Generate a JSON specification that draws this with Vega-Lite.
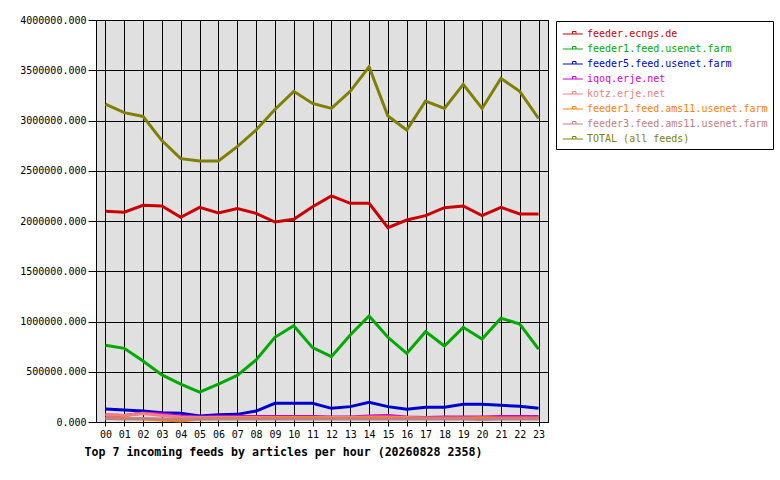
{
  "$schema": "https://vega.github.io/schema/vega-lite/v6.json",
  "width": 452,
  "height": 402,
  "autosize": "none",
  "padding": {"left": 96, "top": 20, "right": 232, "bottom": 58},
  "background": "white",
  "config": {
    "font": "DejaVu Sans Mono",
    "view": {"fill": "#e0e0e0", "stroke": "black", "strokeWidth": 1},
    "axis": {
      "labelFont": "DejaVu Sans Mono",
      "labelFontSize": 10,
      "labelColor": "black",
      "gridColor": "black",
      "gridOpacity": 1,
      "gridWidth": 1,
      "domainColor": "black",
      "tickColor": "black"
    }
  },
  "data": {
    "values": [
      {"h":"00","f":"feeder.ecngs.de","v":2097000},{"h":"01","f":"feeder.ecngs.de","v":2087000},{"h":"02","f":"feeder.ecngs.de","v":2156000},{"h":"03","f":"feeder.ecngs.de","v":2149000},{"h":"04","f":"feeder.ecngs.de","v":2037000},{"h":"05","f":"feeder.ecngs.de","v":2136000},{"h":"06","f":"feeder.ecngs.de","v":2080000},{"h":"07","f":"feeder.ecngs.de","v":2123000},{"h":"08","f":"feeder.ecngs.de","v":2076000},{"h":"09","f":"feeder.ecngs.de","v":1990000},{"h":"10","f":"feeder.ecngs.de","v":2017000},{"h":"11","f":"feeder.ecngs.de","v":2142000},{"h":"12","f":"feeder.ecngs.de","v":2249000},{"h":"13","f":"feeder.ecngs.de","v":2176000},{"h":"14","f":"feeder.ecngs.de","v":2176000},{"h":"15","f":"feeder.ecngs.de","v":1933000},{"h":"16","f":"feeder.ecngs.de","v":2010000},{"h":"17","f":"feeder.ecngs.de","v":2053000},{"h":"18","f":"feeder.ecngs.de","v":2133000},{"h":"19","f":"feeder.ecngs.de","v":2149000},{"h":"20","f":"feeder.ecngs.de","v":2053000},{"h":"21","f":"feeder.ecngs.de","v":2136000},{"h":"22","f":"feeder.ecngs.de","v":2070000},{"h":"23","f":"feeder.ecngs.de","v":2070000},
      {"h":"00","f":"feeder1.feed.usenet.farm","v":763000},{"h":"01","f":"feeder1.feed.usenet.farm","v":733000},{"h":"02","f":"feeder1.feed.usenet.farm","v":607000},{"h":"03","f":"feeder1.feed.usenet.farm","v":468000},{"h":"04","f":"feeder1.feed.usenet.farm","v":378000},{"h":"05","f":"feeder1.feed.usenet.farm","v":298000},{"h":"06","f":"feeder1.feed.usenet.farm","v":378000},{"h":"07","f":"feeder1.feed.usenet.farm","v":464000},{"h":"08","f":"feeder1.feed.usenet.farm","v":617000},{"h":"09","f":"feeder1.feed.usenet.farm","v":843000},{"h":"10","f":"feeder1.feed.usenet.farm","v":958000},{"h":"11","f":"feeder1.feed.usenet.farm","v":740000},{"h":"12","f":"feeder1.feed.usenet.farm","v":650000},{"h":"13","f":"feeder1.feed.usenet.farm","v":866000},{"h":"14","f":"feeder1.feed.usenet.farm","v":1055000},{"h":"15","f":"feeder1.feed.usenet.farm","v":843000},{"h":"16","f":"feeder1.feed.usenet.farm","v":683000},{"h":"17","f":"feeder1.feed.usenet.farm","v":899000},{"h":"18","f":"feeder1.feed.usenet.farm","v":756000},{"h":"19","f":"feeder1.feed.usenet.farm","v":942000},{"h":"20","f":"feeder1.feed.usenet.farm","v":826000},{"h":"21","f":"feeder1.feed.usenet.farm","v":1032000},{"h":"22","f":"feeder1.feed.usenet.farm","v":975000},{"h":"23","f":"feeder1.feed.usenet.farm","v":726000},
      {"h":"00","f":"feeder5.feed.usenet.farm","v":129000},{"h":"01","f":"feeder5.feed.usenet.farm","v":119000},{"h":"02","f":"feeder5.feed.usenet.farm","v":109000},{"h":"03","f":"feeder5.feed.usenet.farm","v":93000},{"h":"04","f":"feeder5.feed.usenet.farm","v":86000},{"h":"05","f":"feeder5.feed.usenet.farm","v":60000},{"h":"06","f":"feeder5.feed.usenet.farm","v":73000},{"h":"07","f":"feeder5.feed.usenet.farm","v":76000},{"h":"08","f":"feeder5.feed.usenet.farm","v":109000},{"h":"09","f":"feeder5.feed.usenet.farm","v":186000},{"h":"10","f":"feeder5.feed.usenet.farm","v":186000},{"h":"11","f":"feeder5.feed.usenet.farm","v":186000},{"h":"12","f":"feeder5.feed.usenet.farm","v":136000},{"h":"13","f":"feeder5.feed.usenet.farm","v":153000},{"h":"14","f":"feeder5.feed.usenet.farm","v":196000},{"h":"15","f":"feeder5.feed.usenet.farm","v":153000},{"h":"16","f":"feeder5.feed.usenet.farm","v":126000},{"h":"17","f":"feeder5.feed.usenet.farm","v":146000},{"h":"18","f":"feeder5.feed.usenet.farm","v":146000},{"h":"19","f":"feeder5.feed.usenet.farm","v":176000},{"h":"20","f":"feeder5.feed.usenet.farm","v":176000},{"h":"21","f":"feeder5.feed.usenet.farm","v":166000},{"h":"22","f":"feeder5.feed.usenet.farm","v":156000},{"h":"23","f":"feeder5.feed.usenet.farm","v":136000},
      {"h":"00","f":"iqoq.erje.net","v":70000},{"h":"01","f":"iqoq.erje.net","v":65000},{"h":"02","f":"iqoq.erje.net","v":90000},{"h":"03","f":"iqoq.erje.net","v":80000},{"h":"04","f":"iqoq.erje.net","v":60000},{"h":"05","f":"iqoq.erje.net","v":50000},{"h":"06","f":"iqoq.erje.net","v":55000},{"h":"07","f":"iqoq.erje.net","v":55000},{"h":"08","f":"iqoq.erje.net","v":55000},{"h":"09","f":"iqoq.erje.net","v":55000},{"h":"10","f":"iqoq.erje.net","v":55000},{"h":"11","f":"iqoq.erje.net","v":55000},{"h":"12","f":"iqoq.erje.net","v":50000},{"h":"13","f":"iqoq.erje.net","v":50000},{"h":"14","f":"iqoq.erje.net","v":60000},{"h":"15","f":"iqoq.erje.net","v":65000},{"h":"16","f":"iqoq.erje.net","v":50000},{"h":"17","f":"iqoq.erje.net","v":45000},{"h":"18","f":"iqoq.erje.net","v":50000},{"h":"19","f":"iqoq.erje.net","v":50000},{"h":"20","f":"iqoq.erje.net","v":50000},{"h":"21","f":"iqoq.erje.net","v":55000},{"h":"22","f":"iqoq.erje.net","v":55000},{"h":"23","f":"iqoq.erje.net","v":55000},
      {"h":"00","f":"kotz.erje.net","v":75000},{"h":"01","f":"kotz.erje.net","v":65000},{"h":"02","f":"kotz.erje.net","v":85000},{"h":"03","f":"kotz.erje.net","v":65000},{"h":"04","f":"kotz.erje.net","v":50000},{"h":"05","f":"kotz.erje.net","v":45000},{"h":"06","f":"kotz.erje.net","v":45000},{"h":"07","f":"kotz.erje.net","v":45000},{"h":"08","f":"kotz.erje.net","v":45000},{"h":"09","f":"kotz.erje.net","v":45000},{"h":"10","f":"kotz.erje.net","v":45000},{"h":"11","f":"kotz.erje.net","v":45000},{"h":"12","f":"kotz.erje.net","v":45000},{"h":"13","f":"kotz.erje.net","v":45000},{"h":"14","f":"kotz.erje.net","v":50000},{"h":"15","f":"kotz.erje.net","v":50000},{"h":"16","f":"kotz.erje.net","v":45000},{"h":"17","f":"kotz.erje.net","v":40000},{"h":"18","f":"kotz.erje.net","v":40000},{"h":"19","f":"kotz.erje.net","v":40000},{"h":"20","f":"kotz.erje.net","v":40000},{"h":"21","f":"kotz.erje.net","v":40000},{"h":"22","f":"kotz.erje.net","v":40000},{"h":"23","f":"kotz.erje.net","v":40000},
      {"h":"00","f":"feeder1.feed.ams11.usenet.farm","v":40000},{"h":"01","f":"feeder1.feed.ams11.usenet.farm","v":35000},{"h":"02","f":"feeder1.feed.ams11.usenet.farm","v":30000},{"h":"03","f":"feeder1.feed.ams11.usenet.farm","v":20000},{"h":"04","f":"feeder1.feed.ams11.usenet.farm","v":10000},{"h":"05","f":"feeder1.feed.ams11.usenet.farm","v":30000},{"h":"06","f":"feeder1.feed.ams11.usenet.farm","v":35000},{"h":"07","f":"feeder1.feed.ams11.usenet.farm","v":35000},{"h":"08","f":"feeder1.feed.ams11.usenet.farm","v":35000},{"h":"09","f":"feeder1.feed.ams11.usenet.farm","v":40000},{"h":"10","f":"feeder1.feed.ams11.usenet.farm","v":40000},{"h":"11","f":"feeder1.feed.ams11.usenet.farm","v":40000},{"h":"12","f":"feeder1.feed.ams11.usenet.farm","v":35000},{"h":"13","f":"feeder1.feed.ams11.usenet.farm","v":35000},{"h":"14","f":"feeder1.feed.ams11.usenet.farm","v":40000},{"h":"15","f":"feeder1.feed.ams11.usenet.farm","v":40000},{"h":"16","f":"feeder1.feed.ams11.usenet.farm","v":35000},{"h":"17","f":"feeder1.feed.ams11.usenet.farm","v":35000},{"h":"18","f":"feeder1.feed.ams11.usenet.farm","v":35000},{"h":"19","f":"feeder1.feed.ams11.usenet.farm","v":35000},{"h":"20","f":"feeder1.feed.ams11.usenet.farm","v":40000},{"h":"21","f":"feeder1.feed.ams11.usenet.farm","v":35000},{"h":"22","f":"feeder1.feed.ams11.usenet.farm","v":35000},{"h":"23","f":"feeder1.feed.ams11.usenet.farm","v":35000},
      {"h":"00","f":"feeder3.feed.ams11.usenet.farm","v":35000},{"h":"01","f":"feeder3.feed.ams11.usenet.farm","v":30000},{"h":"02","f":"feeder3.feed.ams11.usenet.farm","v":35000},{"h":"03","f":"feeder3.feed.ams11.usenet.farm","v":30000},{"h":"04","f":"feeder3.feed.ams11.usenet.farm","v":25000},{"h":"05","f":"feeder3.feed.ams11.usenet.farm","v":30000},{"h":"06","f":"feeder3.feed.ams11.usenet.farm","v":30000},{"h":"07","f":"feeder3.feed.ams11.usenet.farm","v":30000},{"h":"08","f":"feeder3.feed.ams11.usenet.farm","v":30000},{"h":"09","f":"feeder3.feed.ams11.usenet.farm","v":30000},{"h":"10","f":"feeder3.feed.ams11.usenet.farm","v":30000},{"h":"11","f":"feeder3.feed.ams11.usenet.farm","v":30000},{"h":"12","f":"feeder3.feed.ams11.usenet.farm","v":30000},{"h":"13","f":"feeder3.feed.ams11.usenet.farm","v":30000},{"h":"14","f":"feeder3.feed.ams11.usenet.farm","v":30000},{"h":"15","f":"feeder3.feed.ams11.usenet.farm","v":30000},{"h":"16","f":"feeder3.feed.ams11.usenet.farm","v":30000},{"h":"17","f":"feeder3.feed.ams11.usenet.farm","v":30000},{"h":"18","f":"feeder3.feed.ams11.usenet.farm","v":30000},{"h":"19","f":"feeder3.feed.ams11.usenet.farm","v":30000},{"h":"20","f":"feeder3.feed.ams11.usenet.farm","v":25000},{"h":"21","f":"feeder3.feed.ams11.usenet.farm","v":30000},{"h":"22","f":"feeder3.feed.ams11.usenet.farm","v":30000},{"h":"23","f":"feeder3.feed.ams11.usenet.farm","v":30000},
      {"h":"00","f":"TOTAL (all feeds)","v":3164000},{"h":"01","f":"TOTAL (all feeds)","v":3078000},{"h":"02","f":"TOTAL (all feeds)","v":3040000},{"h":"03","f":"TOTAL (all feeds)","v":2800000},{"h":"04","f":"TOTAL (all feeds)","v":2620000},{"h":"05","f":"TOTAL (all feeds)","v":2597000},{"h":"06","f":"TOTAL (all feeds)","v":2597000},{"h":"07","f":"TOTAL (all feeds)","v":2740000},{"h":"08","f":"TOTAL (all feeds)","v":2905000},{"h":"09","f":"TOTAL (all feeds)","v":3110000},{"h":"10","f":"TOTAL (all feeds)","v":3290000},{"h":"11","f":"TOTAL (all feeds)","v":3170000},{"h":"12","f":"TOTAL (all feeds)","v":3120000},{"h":"13","f":"TOTAL (all feeds)","v":3290000},{"h":"14","f":"TOTAL (all feeds)","v":3535000},{"h":"15","f":"TOTAL (all feeds)","v":3045000},{"h":"16","f":"TOTAL (all feeds)","v":2905000},{"h":"17","f":"TOTAL (all feeds)","v":3194000},{"h":"18","f":"TOTAL (all feeds)","v":3120000},{"h":"19","f":"TOTAL (all feeds)","v":3360000},{"h":"20","f":"TOTAL (all feeds)","v":3120000},{"h":"21","f":"TOTAL (all feeds)","v":3420000},{"h":"22","f":"TOTAL (all feeds)","v":3290000},{"h":"23","f":"TOTAL (all feeds)","v":3020000}
    ]
  },
  "mark": {"type": "line", "strokeWidth": 3},
  "encoding": {
    "x": {
      "field": "h",
      "type": "ordinal",
      "sort": null,
      "scale": {"type": "point", "padding": 0.5},
      "title": "Top 7 incoming feeds by articles per hour (20260828 2358)",
      "axis": {
        "labelAngle": 0,
        "grid": true,
        "tickSize": 4,
        "labelPadding": 3,
        "titleFont": "DejaVu Sans Mono",
        "titleFontSize": 11.6,
        "titleFontWeight": "bold",
        "titleColor": "black",
        "titleAlign": "left",
        "titleBaseline": "middle",
        "titleX": -12,
        "titleY": 30
      }
    },
    "y": {
      "field": "v",
      "type": "quantitative",
      "scale": {"domain": [0, 4000000], "nice": false},
      "title": null,
      "axis": {
        "values": [0, 500000, 1000000, 1500000, 2000000, 2500000, 3000000, 3500000, 4000000],
        "format": ".3f",
        "grid": true,
        "tickSize": 8,
        "labelPadding": 2
      }
    },
    "color": {
      "field": "f",
      "type": "nominal",
      "title": null,
      "scale": {
        "domain": ["feeder.ecngs.de", "feeder1.feed.usenet.farm", "feeder5.feed.usenet.farm", "iqoq.erje.net", "kotz.erje.net", "feeder1.feed.ams11.usenet.farm", "feeder3.feed.ams11.usenet.farm", "TOTAL (all feeds)"],
        "range": ["#cc0000", "#00aa00", "#0000cc", "#cc00cc", "#f08080", "#ff8000", "#c08080", "#808000"]
      },
      "legend": {
        "orient": "none",
        "legendX": 460,
        "legendY": 1,
        "padding": 5,
        "fillColor": "white",
        "strokeColor": "black",
        "symbolType": "M-0.83,0H1.84M0.47,0V-0.33H0.93V0",
        "symbolSize": 225,
        "symbolStrokeWidth": 1,
        "symbolFillColor": "transparent",
        "labelOffset": 10,
        "rowPadding": 2,
        "labelFont": "DejaVu Sans Mono",
        "labelFontSize": 10,
        "labelLimit": 300,
        "encode": {
          "labels": {"update": {"fill": {"scale": "color", "field": "value"}}}
        }
      }
    }
  }
}
